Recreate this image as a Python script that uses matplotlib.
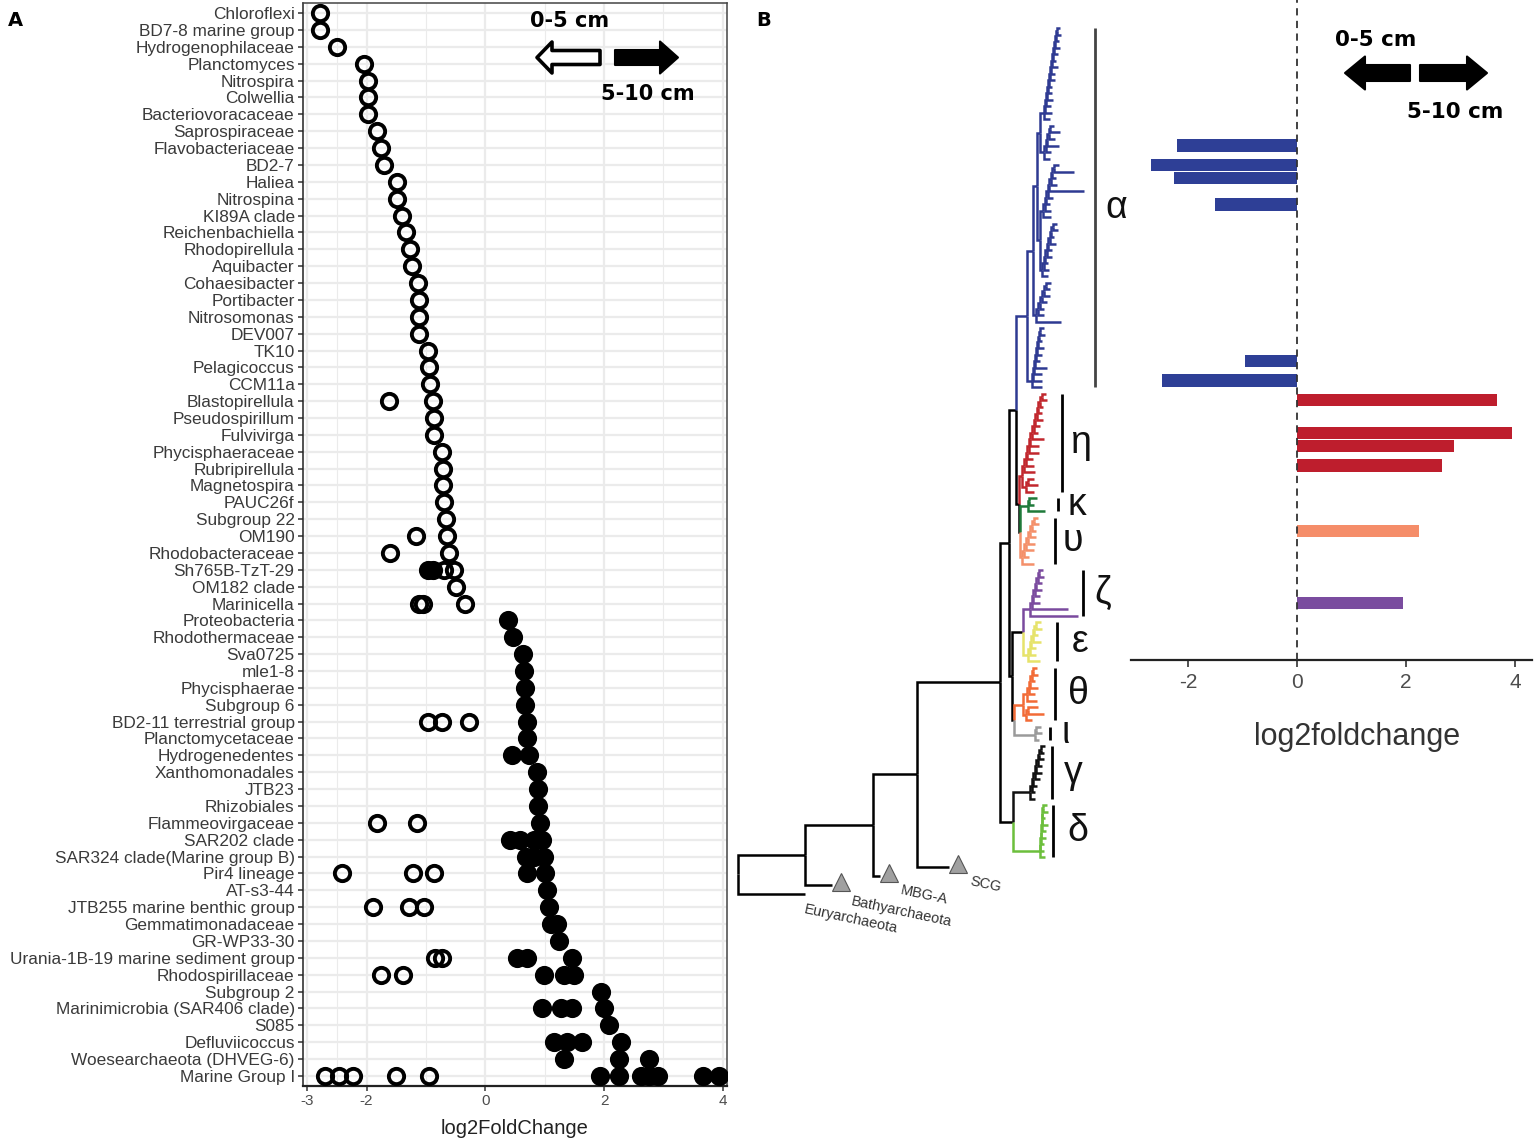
import matplotlib
matplotlib.use('Agg')
import matplotlib.pyplot as plt
from matplotlib.patches import FancyArrow
from matplotlib.collections import LineCollection

plt.rcParams['font.family'] = ['Liberation Sans', 'DejaVu Sans']

# ---------------- data: panel A ----------------
taxa = ["Chloroflexi", "BD7-8 marine group", "Hydrogenophilaceae", "Planctomyces",
        "Nitrospira", "Colwellia", "Bacteriovoracaceae", "Saprospiraceae",
        "Flavobacteriaceae", "BD2-7", "Haliea", "Nitrospina", "KI89A clade",
        "Reichenbachiella", "Rhodopirellula", "Aquibacter", "Cohaesibacter",
        "Portibacter", "Nitrosomonas", "DEV007", "TK10", "Pelagicoccus", "CCM11a",
        "Blastopirellula", "Pseudospirillum", "Fulvivirga", "Phycisphaeraceae",
        "Rubripirellula", "Magnetospira", "PAUC26f", "Subgroup 22", "OM190",
        "Rhodobacteraceae", "Sh765B-TzT-29", "OM182 clade", "Marinicella",
        "Proteobacteria", "Rhodothermaceae", "Sva0725", "mle1-8", "Phycisphaerae",
        "Subgroup 6", "BD2-11 terrestrial group", "Planctomycetaceae",
        "Hydrogenedentes", "Xanthomonadales", "JTB23", "Rhizobiales",
        "Flammeovirgaceae", "SAR202 clade", "SAR324 clade(Marine group B)",
        "Pir4 lineage", "AT-s3-44", "JTB255 marine benthic group",
        "Gemmatimonadaceae", "GR-WP33-30", "Urania-1B-19 marine sediment group",
        "Rhodospirillaceae", "Subgroup 2", "Marinimicrobia (SAR406 clade)", "S085",
        "Defluviicoccus", "Woesearchaeota (DHVEG-6)", "Marine Group I"]

open_lfc = [[-2.79], [-2.78], [-2.50], [-2.05], [-1.98], [-1.98], [-1.97], [-1.83],
            [-1.76], [-1.70], [-1.49], [-1.48], [-1.40], [-1.33], [-1.27], [-1.23],
            [-1.14], [-1.12], [-1.12], [-1.11], [-0.96], [-0.95], [-0.93],
            [-1.63, -0.88], [-0.87], [-0.87], [-0.73], [-0.72], [-0.72], [-0.69],
            [-0.66], [-1.17, -0.65], [-1.60, -0.61], [-0.70, -0.52], [-0.50],
            [-1.12, -1.05, -0.34],
            [], [], [], [], [], [], [-0.96, -0.73, -0.28], [], [], [], [], [],
            [-1.83, -1.15], [], [], [-2.42, -1.21, -0.87], [], [-1.89, -1.29, -1.04],
            [], [], [-0.85, -0.73], [-1.75, -1.38], [], [], [], [], [],
            [-2.70, -2.46, -2.22, -1.51, -0.95]]

filled_lfc = [[]] * 33 + [[-0.97, -0.88], [], [],
              [0.38], [0.46], [0.63], [0.65], [0.66], [0.67], [0.70], [0.71],
              [0.45, 0.73], [0.87], [0.88], [0.89], [0.92], [0.42, 0.59, 0.82, 0.96],
              [0.68, 0.82, 0.98], [0.70, 1.01], [1.04], [1.07], [1.10, 1.21], [1.24],
              [0.54, 0.70, 1.46], [0.98, 1.32, 1.49], [1.94], [0.96, 1.27, 1.46, 2.00],
              [2.08], [1.15, 1.38, 1.63, 2.28], [1.32, 2.25, 2.76],
              [1.93, 2.25, 2.62, 2.76, 2.90, 3.66, 3.94]]

xticks_A = [-3, -2, 0, 2, 4]
xminor_A = [-2.5, -1, 1, 3]

# ---------------- data: panel B (tree + bars) ----------------
clade_names = ['α', 'η', 'κ', 'υ', 'ζ', 'ε', 'θ', 'ι', 'γ', 'δ']
clade_colors = ['#2E3A92', '#C1272D', '#1F7A3A', '#F4906A', '#7A4A9E',
                '#E6E36A', '#F26B36', '#9A9A9A', '#111111', '#6CBF3C']
outgroups = ['SCG', 'MBG-A', 'Bathyarchaeota', 'Euryarchaeota']

# tip lengths (pixels) of the comb-like sub-clades, top to bottom
a_g1 = [3, 4, 3, 5, 4, 3, 6, 4, 5, 3, 4, 6, 5, 7, 6]
a_g2 = [4, 10, 6, 12, 5, 6]
a_g3 = [5, 20, 4, 6, 35, 5, 4, 6, 8]
a_g4 = [4, 5, 3, 6, 4, 5, 3, 5, 6]
a_g5 = [5, 4, 6, 5, 4, 6, 25]
a_g6 = [4, 5, 3, 6, 5, 4, 12, 8, 9, 10]
eta_main = [4, 5, 3, 4, 6, 5, 4, 12, 9, 10, 6, 8, 11]
eta_low = [6, 10, 8]
kappa_t = [8, 5, 17]
ups_t = [4, 5, 4, 6, 7, 8, 5, 12]
zeta_t = [4, 5, 4, 6, 5, 7]
zeta_long = [36, 48]
eps_t = [5, 6, 4, 8, 5, 6, 12]
theta_a = [4, 5, 3, 8, 6, 10]
theta_b = [10, 16, 6]
iota_t = [5, 6, 4]
gamma_t = [4, 3, 5, 4, 6, 5, 4, 3, 5]
delta_t = [4, 5, 3, 6, 4, 5, 3, 4, 5]

bar_leaf = [18, 21, 23, 27, 51, 54, 57, 62, 64, 67, 77, 88]
bar_lfc = [-2.20, -2.68, -2.26, -1.50, -0.95, -2.48, 3.67, 3.94, 2.87, 2.65, 2.23, 1.94]
bar_clade = ['α'] * 6 + ['η'] * 4 + ['υ', 'ζ']
bar_colors = {'α': '#2E3F96', 'η': '#BE1E2D', 'υ': '#F58D69', 'ζ': '#7A4C9F'}
xticks_B = [-2, 0, 2, 4]

# ---------------- figure ----------------
W, H = 1535, 1144
fig = plt.figure(figsize=(W / 100, H / 100), dpi=100)


def px_rect(x0, y0, x1, y1):
    return [x0 / W, 1 - y1 / H, (x1 - x0) / W, (y1 - y0) / H]


# ----- Panel A -----
axA = fig.add_axes(px_rect(303, 3, 727, 1086))
n = len(taxa)
axA.set_xlim(-3.07, 4.07)
axA.set_ylim(n - 1 + 0.6, -0.6)
axA.set_xticks(xticks_A)
axA.set_xticklabels([str(t) for t in xticks_A])
axA.set_xticks(xminor_A, minor=True)
axA.set_yticks(range(n))
axA.set_yticklabels(taxa)
axA.grid(which='major', color='#EBEBEB', lw=1.6)
axA.grid(which='minor', axis='x', color='#EBEBEB', lw=0.8)
axA.set_axisbelow(True)
axA.tick_params(axis='y', labelsize=12.4, labelcolor='#3A3A3A', length=3.5, pad=2.5,
                color='#333333', width=1.1)
axA.tick_params(axis='x', which='major', labelsize=11, labelcolor='#4D4D4D',
                length=3.5, pad=2.5, color='#333333', width=1.1)
axA.tick_params(axis='x', which='minor', length=0)
for s in axA.spines.values():
    s.set_color('#444444')
    s.set_linewidth(1.1)
axA.spines['bottom'].set_color('#222222')
axA.spines['bottom'].set_linewidth(1.6)
axA.spines['left'].set_color('#222222')

fx, fy, ox, oy = [], [], [], []
for i, vals in enumerate(filled_lfc):
    fx += vals
    fy += [i] * len(vals)
for i, vals in enumerate(open_lfc):
    ox += vals
    oy += [i] * len(vals)
axA.plot(fx, fy, 'o', ms=11.0, mfc='black', mec='black', mew=2.8, ls='none', zorder=3)
axA.plot(ox, oy, 'o', ms=11.0, mfc='none', mec='black', mew=2.8, ls='none', zorder=4)


# ----- Panel B: tree -----
def leaf(gap=1.0, name=None):
    return {'ch': [], 'gap': gap, 'name': name}


def node(*pairs):
    return {'ch': list(pairs)}


def comb(tips, step):
    cur = node((leaf(), tips[0]), (leaf(), tips[1]))
    for t in tips[2:]:
        cur = node((cur, step), (leaf(), t))
    return cur


def paint(nd, c):
    nd['color'] = c
    for ch, _ in nd['ch']:
        paint(ch, c)


u3 = node((comb(a_g1, 1.0), 4), (comb(a_g2, 1.5), 4))
g34 = node((comb(a_g3, 1.5), 3), (comb(a_g4, 1.5), 2))
u2 = node((u3, 3), (g34, 3))
u1 = node((u2, 4), (comb(a_g5, 2.0), 3))
alpha = node((u1, 6), (comb(a_g6, 1.0), 5))
eta = node((comb(eta_main, 1.6), 2), (comb(eta_low, 1.5), 4))
kappa = comb(kappa_t, 1.0)
ups = comb(ups_t, 2.0)
zeta = node((node((comb(zeta_t, 1.5), 1), (leaf(), zeta_long[0])), 2), (leaf(), zeta_long[1]))
eps = comb(eps_t, 1.5)
theta = node((comb(theta_a, 1.5), 4), (comb(theta_b, 1.5), 3))
iota = comb(iota_t, 0.5)
gamma = comb(gamma_t, 1.5)
delta = comb(delta_t, 0.4)
clades = [alpha, eta, kappa, ups, zeta, eps, theta, iota, gamma, delta]
for cl, col in zip(clades, clade_colors):
    paint(cl, col)

og = [leaf(1.4, name) for name in outgroups]
n_ku = node((kappa, 8), (ups, 2))
n_hk = node((eta, 3), (n_ku, 1))
n6 = node((alpha, 11), (n_hk, 3))
n_ze = node((zeta, 7), (eps, 5))
n_ti = node((theta, 9), (iota, 21))
n_eti = node((n_ze, 11), (n_ti, 2))
n5 = node((n6, 7), (n_eti, 3))
n_gd = node((gamma, 17), (delta, 27))
n4 = node((n5, 9), (n_gd, 13))
n3 = node((n4, 83), (og[0], 32))
n2 = node((n3, 44), (og[1], 7))
n1 = node((n2, 68), (og[2], 27))
root = node((n1, 67), (og[3], 67))

state = {'y': 0.0, 'first': True}
leaves = []


def layout(nd, x):
    nd['x'] = x
    if not nd['ch']:
        if not state['first']:
            state['y'] += nd['gap']
        state['first'] = False
        nd['y'] = state['y']
        leaves.append(nd)
    else:
        for ch, L in nd['ch']:
            layout(ch, x + L)
        nd['y'] = (nd['ch'][0][0]['y'] + nd['ch'][-1][0]['y']) / 2


layout(root, 738)
total = leaves[-1]['y']
top_px, bot_px = 28, 894
sp = (bot_px - top_px) / total


def u(px):
    return (px - top_px) / sp


axT = fig.add_axes(px_rect(730, 0, 1131, 1144))
axT.set_xlim(730, 1131)
axT.set_ylim(u(1144), u(0))
axT.axis('off')

segs, cols = [], []


def collect(nd):
    for ch, _ in nd['ch']:
        segs.append([(nd['x'], nd['y']), (nd['x'], ch['y']), (ch['x'], ch['y'])])
        cols.append(ch.get('color', 'black'))
        collect(ch)


collect(root)
axT.add_collection(LineCollection(segs, colors=cols, linewidths=1.8,
                                  capstyle='butt', joinstyle='miter'))

# outgroup triangles and labels
lab_dx = [14, 13, 12, 1]
lab_dy = [8, 8, 9, 8]
for k, lf in enumerate(og):
    tx = lf['x']
    if k < 3:
        axT.plot(tx + 9, lf['y'] - 3 / sp, marker='^', ms=13.5, mfc='#A0A0A0',
                 mec='#555555', mew=0.8, ls='none', clip_on=False)
        tx = tx + 9
    axT.text(tx + lab_dx[k], lf['y'] + lab_dy[k] / sp, lf['name'], rotation=-12,
             rotation_mode='anchor', ha='left', va='top', fontsize=10.5, color='#333333')

# clade brackets and greek labels
bracket_x = [1095, 1062, 1058, 1055, 1083, 1057, 1055, 1050, 1052, 1053]
label_dx = [21, 18, 19, 18, 20, 23, 23, 16, 21, 25]
for cl, name, bx, ldx in zip(clades, clade_names, bracket_x, label_dx):
    cnt = []

    def count(nd):
        if not nd['ch']:
            cnt.append(nd['y'])
        for ch, _ in nd['ch']:
            count(ch)
    count(cl)
    y0, y1 = min(cnt), max(cnt)
    axT.plot([bx, bx], [y0, y1], color='#444444' if name == 'α' else 'black',
             lw=2.0, solid_capstyle='butt')
    axT.text(bx + ldx, (y0 + y1) / 2, name, fontsize=27, ha='center', va='center',
             color='#111111')

# ----- Panel B: bars -----
axB = fig.add_axes(px_rect(1131, 0, 1532, 660))
axB.set_xlim(-3.05, 4.31)
axB.set_ylim(u(660), u(0))
ys = [leaves[i]['y'] for i in bar_leaf]
axB.barh(ys, bar_lfc, height=1.9, color=[bar_colors[c] for c in bar_clade], zorder=2)
axB.axvline(0, color='#333333', ls=(0, (4, 3)), lw=1.3, zorder=3)
for side in ['top', 'left', 'right']:
    axB.spines[side].set_visible(False)
axB.spines['bottom'].set_color('#222222')
axB.spines['bottom'].set_linewidth(1.6)
axB.set_yticks([])
axB.set_xticks(xticks_B)
axB.set_xticklabels([str(t) for t in xticks_B])
axB.tick_params(axis='x', labelsize=15, labelcolor='#4D4D4D', length=5, width=1.2,
                color='#333333', pad=4)
axB.patch.set_alpha(0)

# ----- overlay: annotations -----
ax0 = fig.add_axes([0, 0, 1, 1], zorder=10)
ax0.set_xlim(0, W)
ax0.set_ylim(H, 0)
ax0.axis('off')
ax0.patch.set_alpha(0)

ax0.text(15, 20, 'A', fontsize=14, fontweight='bold', family='DejaVu Sans',
         ha='center', va='center')
ax0.text(764, 20, 'B', fontsize=14, fontweight='bold', family='DejaVu Sans',
         ha='center', va='center')

# panel A arrows
ax0.add_patch(FancyArrow(600, 57.5, -63, 0, width=14, head_width=31, head_length=15,
                         length_includes_head=True, fc='white', ec='black', lw=2.6,
                         joinstyle='round'))
ax0.add_patch(FancyArrow(615, 57.5, 63, 0, width=15, head_width=32, head_length=18,
                         length_includes_head=True, fc='black', ec='black', lw=1.5,
                         joinstyle='round'))
ax0.text(570, 21, '0-5 cm', fontsize=15, fontweight='bold', family='DejaVu Sans',
         ha='center', va='center')
ax0.text(648, 94, '5-10 cm', fontsize=15, fontweight='bold', family='DejaVu Sans',
         ha='center', va='center')
ax0.text(515, 1128, 'log2FoldChange', fontsize=14.5, color='#222222',
         ha='center', va='center')

# panel B arrows
ax0.add_patch(FancyArrow(1410, 73, -65, 0, width=16, head_width=33, head_length=20,
                         length_includes_head=True, fc='black', ec='black', lw=1.5,
                         joinstyle='round'))
ax0.add_patch(FancyArrow(1420, 73, 67, 0, width=16, head_width=33, head_length=20,
                         length_includes_head=True, fc='black', ec='black', lw=1.5,
                         joinstyle='round'))
ax0.text(1376, 40, '0-5 cm', fontsize=15.5, fontweight='bold', family='DejaVu Sans',
         ha='center', va='center')
ax0.text(1455, 112, '5-10 cm', fontsize=15.5, fontweight='bold', family='DejaVu Sans',
         ha='center', va='center')
ax0.text(1357, 737, 'log2foldchange', fontsize=22, color='#333333',
         ha='center', va='center')

fig.savefig('out.png', dpi=100, facecolor='white')
